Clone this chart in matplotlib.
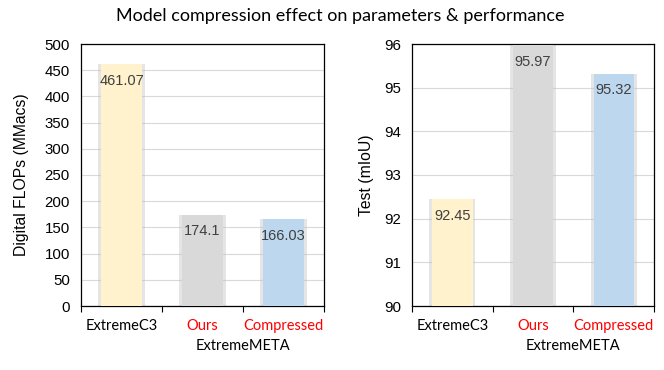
import matplotlib
matplotlib.use("Agg")
import matplotlib.pyplot as plt
import numpy as np

categories = ["ExtremeC3", "Ours", "Compressed"]
cat_colors = ["black", "red", "red"]
flops = [461.07, 174.1, 166.03]
miou = [92.45, 95.97, 95.32]
bar_colors = ["#FFF2CC", "#D9D9D9", "#BDD7EE"]
flop_labels = ["461.07", "174.1", "166.03"]
miou_labels = ["92.45", "95.97", "95.32"]

fig = plt.figure(figsize=(6.64, 3.70), dpi=100)
fig.text(0.512, 0.958, "Model compression effect on parameters & performance",
         ha="center", va="center", fontsize=13, family="Lato")

def draw(ax, vals, labels, ylim, yticks, ylabel, lpad):
    x = np.arange(len(vals))
    # soft shadow
    ax.bar(x, vals, width=0.57, color="#bfbfbf", alpha=0.4, zorder=2)
    ax.bar(x, vals, width=0.5, color=bar_colors, edgecolor="none", zorder=3)
    for xi, v, lab in zip(x, vals, labels):
        ax.annotate(lab, (xi, v), xytext=(0, -12), textcoords="offset points",
                    ha="center", va="center", fontsize=10.5, color="#404040",
                    family="Liberation Sans", zorder=4)
    ax.set_xlim(-0.5, 2.5)
    ax.set_ylim(*ylim)
    ax.set_yticks(yticks)
    ax.yaxis.grid(True, color="#d9d9d9", linewidth=0.8, zorder=0)
    ax.set_axisbelow(True)
    ax.tick_params(axis="y", length=0, labelsize=10.8, pad=8)
    for t in ax.get_yticklabels():
        t.set_family("Liberation Sans")
    ax.set_xticks([-0.5, 0.5, 1.5, 2.5])
    ax.set_xticklabels([])
    ax.tick_params(axis="x", which="major", length=4, direction="out", width=0.8)
    ax.set_xticks(x, minor=True)
    ax.set_xticklabels(categories, minor=True)
    ax.tick_params(axis="x", which="minor", length=0, pad=9.5, labelsize=10.5)
    for t, c in zip(ax.get_xticklabels(minor=True), cat_colors):
        t.set_color(c)
        t.set_family("Lato")
    for s in ax.spines.values():
        s.set_color("black")
        s.set_linewidth(0.9)
    ax.set_ylabel(ylabel, fontsize=11.3, family="Liberation Sans", labelpad=lpad)
    ax.text(1.5, -0.152, "ExtremeMETA", transform=ax.get_xaxis_transform(),
            ha="center", va="center", fontsize=10.5, family="Lato")

ax1 = fig.add_axes([81/664, 64/370, 243/664, 262/370])
draw(ax1, flops, flop_labels, (0, 500), np.arange(0, 501, 50), "Digital FLOPs (MMacs)", 11)
ax2 = fig.add_axes([412/664, 64/370, 242/664, 262/370])
draw(ax2, miou, miou_labels, (90, 96), np.arange(90, 97, 1), "Test (mIoU)", 7)

fig.savefig("out.png", dpi=100)
